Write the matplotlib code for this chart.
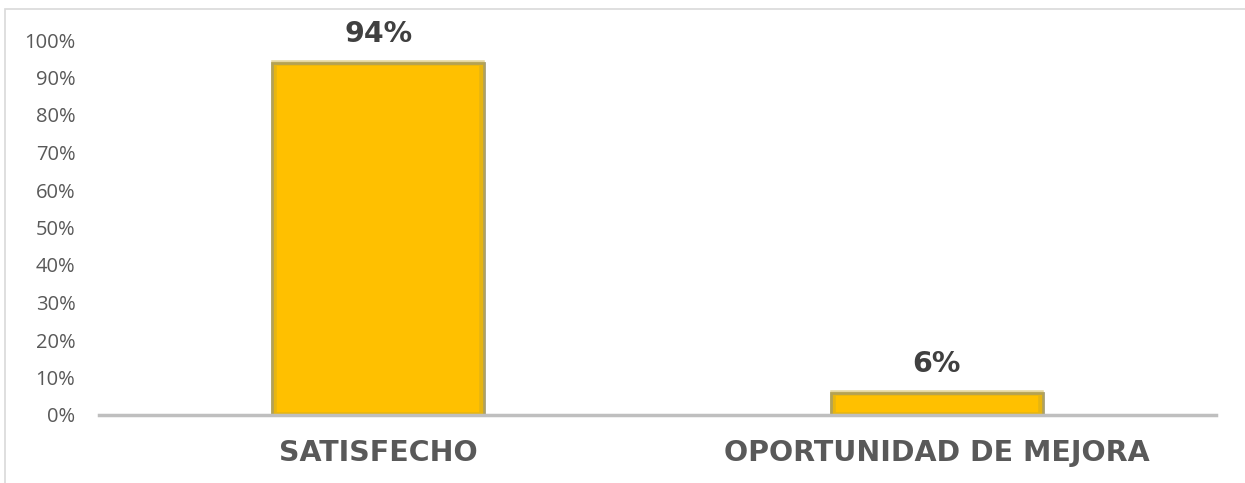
import matplotlib
matplotlib.use("Agg")
import matplotlib.pyplot as plt
from matplotlib.patches import Rectangle
from matplotlib.ticker import PercentFormatter

categories = ["SATISFECHO", "OPORTUNIDAD DE MEJORA"]
values = [0.94, 0.06]
value_labels = ["94%", "6%"]
yticks = [0, 0.1, 0.2, 0.3, 0.4, 0.5, 0.6, 0.7, 0.8, 0.9, 1.0]

fig = plt.figure(figsize=(12.45, 4.83), dpi=100)
ax = fig.add_axes([99/1245, 1-415/483, (1216-99)/1245, (415-40)/483])

# chart border (light gray frame)
fig.patches.append(Rectangle((5/1245, -0.1), 1.2, 1.1 - 9/483,
                             transform=fig.transFigure, fill=False,
                             edgecolor="#D9D9D9", linewidth=1.2))

xs = list(range(len(categories)))
ax.bar(xs, values, width=0.38, color="#FFC000",
       edgecolor="#A49E78", linewidth=2.0, zorder=3)
# soft inner glow
ax.bar(xs, values, width=0.372, color="none", edgecolor="#C9A82A",
       linewidth=4, alpha=0.45, zorder=3)

for x, v, lab in zip(xs, values, value_labels):
    ax.annotate(lab, (x, v), xytext=(0, 10.5), textcoords="offset points",
                ha="center", va="bottom", fontsize=20.5, fontweight="bold",
                color="#404040", family="DejaVu Sans")

ax.set_xlim(-0.5, 1.5)
ax.set_ylim(0, 1)
ax.set_yticks(yticks)
ax.yaxis.set_major_formatter(PercentFormatter(1.0, decimals=0))
ax.set_xticks(xs)
ax.set_xticklabels(categories, fontsize=20.5, fontweight="bold",
                   color="#595959", family="DejaVu Sans")

for lab in ax.get_yticklabels():
    lab.set_family("Open Sans")
    lab.set_fontsize(14.5)
    lab.set_color("#595959")

ax.tick_params(axis="y", length=0, pad=17)
ax.tick_params(axis="x", length=0, pad=17.5)
for s in ["top", "right", "left"]:
    ax.spines[s].set_visible(False)
ax.spines["bottom"].set_color("#BFBFBF")
ax.spines["bottom"].set_linewidth(2.5)
ax.spines["bottom"].set_zorder(4)

fig.savefig("out.png", dpi=100)
